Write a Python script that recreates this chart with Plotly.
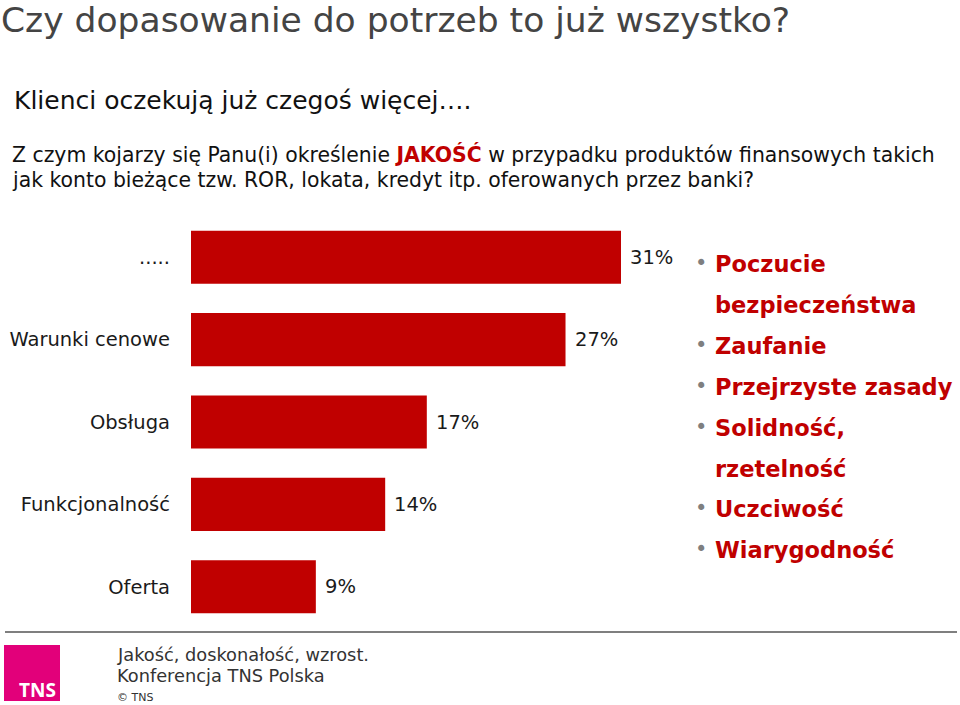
import plotly.graph_objects as go

categories = [".....", "Warunki cenowe", "Obsługa", "Funkcjonalność", "Oferta"]
values = [31, 27, 17, 14, 9]
value_labels = ["31%", "27%", "17%", "14%", "9%"]
bullets = [
    ("Poczucie", True), ("bezpieczeństwa", False), ("Zaufanie", True),
    ("Przejrzyste zasady", True), ("Solidność,", True), ("rzetelność", False),
    ("Uczciwość", True), ("Wiarygodność", True),
]

W, H = 960, 705
L, R, T, B = 191, 280, 216, 77
PW, PH = W - L - R, H - T - B

def px(x):
    return (x - L) / PW

def py(y):
    return 1 - (y - T) / PH

FONT = "DejaVu Sans"
RED = "#C00000"

fig = go.Figure(go.Bar(
    x=values, y=categories, orientation="h",
    marker=dict(color=RED, line=dict(width=0)),
    width=0.645, hoverinfo="skip",
))

ann = []
for c, v, t in zip(categories, values, value_labels):
    ann.append(dict(text=t, x=v, y=c, xref="x", yref="y", xanchor="left", yanchor="middle",
                    xshift=8, showarrow=False, borderpad=0,
                    font=dict(family=FONT, size=19.5, color="#1a1a1a")))

def add(text, x, y, size, color="#000", bold=False, anchor="left", family=FONT):
    ann.append(dict(text=("<b>%s</b>" % text) if bold else text, x=px(x), y=py(y),
                    xref="paper", yref="paper", xanchor=anchor, yanchor="middle",
                    showarrow=False, borderpad=0,
                    font=dict(family=family, size=size, color=color)))

add("Czy dopasowanie do potrzeb to już wszystko?", 0, 20, 34.5, "#444")
add("Klienci oczekują już czegoś więcej….", 13, 100, 25, "#111")
add("Z czym kojarzy się Panu(i) określenie <b><span style='color:%s'>JAKOŚĆ</span></b> w przypadku produktów finansowych takich" % RED,
    11, 154, 20.4, "#111")
add("jak konto bieżące tzw. ROR, lokata, kredyt itp. oferowanych przez banki?", 11, 180, 20.4, "#111")

ys = [264, 305, 346, 387, 428, 469, 509, 550]
for (t, b), y in zip(bullets, ys):
    if b:
        add("•", 694, y - 1, 21, "#7f7f7f")
    add(t, 714, y, 22.5, RED, bold=True)

add("Jakość, doskonałość, wzrost.", 116, 654, 17.8, "#333")
add("Konferencja TNS Polska", 116, 675, 17.8, "#333")
add("© TNS", 116, 697, 11, "#333")
add("TNS", 37, 690, 19, "#fff", bold=True, anchor="center", family="Open Sans")

shapes = [
    dict(type="line", xref="paper", yref="paper", x0=px(5), x1=px(957), y0=py(632), y1=py(632),
         line=dict(color="#555", width=1.5)),
    dict(type="rect", xref="paper", yref="paper", x0=px(4), x1=px(60), y0=py(645), y1=py(701),
         fillcolor="#E2007A", line=dict(width=0)),
]

fig.update_layout(
    width=W, height=H, margin=dict(l=L, r=R, t=T, b=B, autoexpand=False),
    plot_bgcolor="#fff", paper_bgcolor="#fff", showlegend=False,
    annotations=ann, shapes=shapes,
    xaxis=dict(range=[0, 31 * PW / 430], visible=False, automargin=False),
    yaxis=dict(autorange="reversed", showgrid=False, showline=False, ticks="",
               automargin=False,
               ticklabelstandoff=20, tickfont=dict(family=FONT, size=19.5, color="#1a1a1a")),
)
fig.write_html("out.html")
